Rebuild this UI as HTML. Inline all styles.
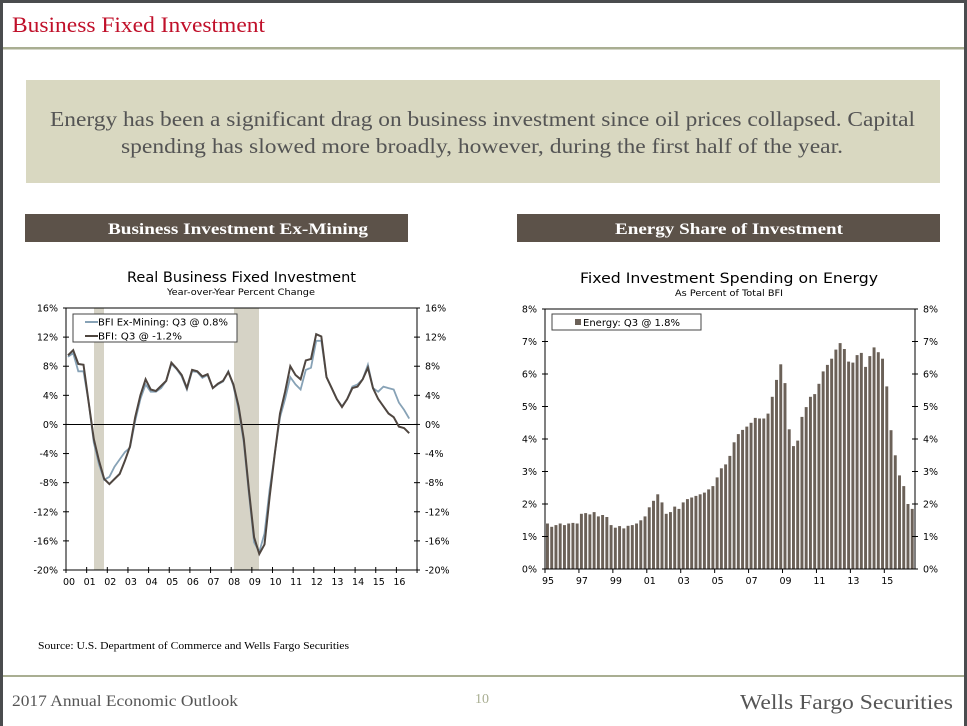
<!DOCTYPE html>
<html><head><meta charset="utf-8"><style>
html,body{margin:0;padding:0;background:#fff}
body{width:967px;height:726px;overflow:hidden;position:relative}
svg{position:absolute;left:0;top:0}
</style></head><body>
<svg id="s" width="967" height="726" xmlns="http://www.w3.org/2000/svg" font-family="DejaVu Sans, sans-serif">
<rect x="0" y="0" width="967" height="726" fill="#fff"/>
<rect x="0" y="0" width="967" height="3" fill="#4a4c4e"/>
<rect x="0" y="0" width="3" height="726" fill="#4a4c4e"/>
<rect x="964" y="0" width="3" height="726" fill="#4a4c4e"/>
<text x="12" y="32" font-family="Liberation Serif, serif" font-size="22" fill="#c0102a" textLength="253" lengthAdjust="spacingAndGlyphs">Business Fixed Investment</text>
<rect x="3" y="47" width="961" height="2.5" fill="#a9ae92"/>
<rect x="26" y="80" width="914" height="103" fill="#d9d8c1"/>
<text x="50" y="126" font-family="Liberation Serif, serif" font-size="21" fill="#545454" textLength="865" lengthAdjust="spacingAndGlyphs">Energy has been a significant drag on business investment since oil prices collapsed. Capital</text>
<text x="121" y="153" font-family="Liberation Serif, serif" font-size="21" fill="#545454" textLength="722" lengthAdjust="spacingAndGlyphs">spending has slowed more broadly, however, during the first half of the year.</text>
<rect x="25" y="214" width="383" height="28" fill="#5c5249"/>
<text x="108" y="234" font-family="Liberation Serif, serif" font-weight="bold" font-size="16" fill="#fff" textLength="260" lengthAdjust="spacingAndGlyphs">Business Investment Ex-Mining</text>
<rect x="517" y="214" width="423" height="28" fill="#5c5249"/>
<text x="615" y="234" font-family="Liberation Serif, serif" font-weight="bold" font-size="16" fill="#fff" textLength="228" lengthAdjust="spacingAndGlyphs">Energy Share of Investment</text>
<text x="127" y="282" font-size="14" fill="#000" textLength="229" lengthAdjust="spacingAndGlyphs">Real Business Fixed Investment</text>
<text x="167" y="295" font-size="9" fill="#000" textLength="148" lengthAdjust="spacingAndGlyphs">Year-over-Year Percent Change</text>
<text x="580" y="283" font-size="14" fill="#000" textLength="298" lengthAdjust="spacingAndGlyphs">Fixed Investment Spending on Energy</text>
<text x="675" y="296" font-size="9" fill="#000" textLength="108" lengthAdjust="spacingAndGlyphs">As Percent of Total BFI</text>
<g id="L"></g><g id="R"></g>
<text x="38" y="649" font-family="Liberation Serif, serif" font-size="11" fill="#000" textLength="311" lengthAdjust="spacingAndGlyphs">Source: U.S. Department of Commerce and Wells Fargo Securities</text>
<rect x="3" y="675" width="961" height="2" fill="#a9ae92"/>
<text x="12" y="706" font-family="Liberation Serif, serif" font-size="16" fill="#555" textLength="226" lengthAdjust="spacingAndGlyphs">2017 Annual Economic Outlook</text>
<text x="482" y="703" text-anchor="middle" font-family="Liberation Serif, serif" font-size="14" fill="#a9ae92">10</text>
<text x="740" y="709" font-family="Liberation Serif, serif" font-size="21" fill="#555" textLength="213" lengthAdjust="spacingAndGlyphs">Wells Fargo Securities</text>
</svg>
<script>
var NS="http://www.w3.org/2000/svg";
function el(p,t,a,tx){var e=document.createElementNS(NS,t);for(var k in a)e.setAttribute(k,a[k]);if(tx!=null)e.textContent=tx;p.appendChild(e);return e;}
var L=document.getElementById("L");
var x0=66,x1=417,yT=308,yB=570;
function ly(v){return yT+(16-v)*(yB-yT)/36;}
function lx(q){return x0+2+q*5.17;}
el(L,"rect",{x:94,y:yT,width:10,height:yB-yT,fill:"#d6d3c6"});
el(L,"rect",{x:234,y:yT,width:25,height:yB-yT,fill:"#d6d3c6"});
el(L,"rect",{x:x0,y:yT,width:x1-x0,height:yB-yT,fill:"none",stroke:"#000","stroke-width":1});
el(L,"line",{x1:x0,y1:ly(0),x2:x1,y2:ly(0),stroke:"#000","stroke-width":1});
for(var v=-20;v<=16;v+=4){var y=ly(v);var t=v+"%";
el(L,"line",{x1:x0-3,y1:y,x2:x0+3,y2:y,stroke:"#000"});
el(L,"line",{x1:x1-3,y1:y,x2:x1+3,y2:y,stroke:"#000"});
el(L,"text",{x:x0-8,y:y+3.5,"text-anchor":"end","font-size":"9.5"},t);
el(L,"text",{x:x1+8,y:y+3.5,"font-size":"9.5"},t);}
for(var i=0;i<=17;i++){var x=x0+i*20.65;el(L,"line",{x1:x,y1:yB-3,x2:x,y2:yB+3,stroke:"#000"});
if(i<17)el(L,"text",{x:x+3,y:yB+15,"text-anchor":"middle","font-size":"9.5"},("0"+i).slice(-2));}
var bfi=[9.5,10.2,8.3,8.2,3,-2,-5,-7.5,-8.2,-7.5,-6.8,-5,-3,1,4,6.2,4.8,4.6,5.3,6,8.5,7.7,6.8,5,7.5,7.3,6.6,6.9,5,5.6,6,7.2,5.5,2.5,-2,-9,-15.5,-17.8,-16.5,-10,-4,1.5,4.5,8,6.8,6.2,8.8,9,12.4,12.1,6.5,5,3.5,2.4,3.5,5,5.2,6.2,7.8,5,3.5,2.5,1.5,1,-0.3,-0.5,-1.2];
var exm=[9.3,9.8,7.3,7.3,3,-2.5,-5.5,-7.6,-7.2,-5.8,-4.8,-3.8,-3.2,0.5,3.5,5.5,4.5,4.5,5,6,8.3,7.6,6.6,4.8,7.3,7.2,6.4,6.8,5,5.5,5.9,7.3,5.3,2,-2.5,-9.5,-16.2,-17.5,-15,-9,-4,1,3.5,6.5,5.5,4.8,7.5,7.8,11.5,11.5,6.5,5,3.5,2.5,3.5,5.2,5.5,6.2,8.2,5,4.5,5.2,5,4.8,3,2,0.8];
function pts(a){return a.map(function(v,i){return lx(i).toFixed(1)+","+ly(v).toFixed(1)}).join(" ");}
el(L,"polyline",{points:pts(exm),fill:"none",stroke:"#87a2b6","stroke-width":1.8});
el(L,"polyline",{points:pts(bfi),fill:"none",stroke:"#4f4640","stroke-width":2});
el(L,"rect",{x:73,y:314,width:164,height:28,fill:"#fff",stroke:"#444","stroke-width":1});
el(L,"line",{x1:85,y1:322,x2:98,y2:322,stroke:"#87a2b6","stroke-width":2});
el(L,"line",{x1:85,y1:336,x2:98,y2:336,stroke:"#4f4640","stroke-width":2});
el(L,"text",{x:98,y:325.5,"font-size":"9.5",textLength:"130",lengthAdjust:"spacingAndGlyphs"},"BFI Ex-Mining: Q3 @ 0.8%");
el(L,"text",{x:98,y:339.5,"font-size":"9.5",textLength:"84",lengthAdjust:"spacingAndGlyphs"},"BFI: Q3 @ -1.2%");
var R=document.getElementById("R");
var rx0=545,rx1=915,ryT=309,ryB=569;
function ry(v){return ryB-v*(ryB-ryT)/8;}
var en=[1.4,1.3,1.35,1.4,1.35,1.4,1.42,1.4,1.7,1.72,1.68,1.75,1.62,1.66,1.6,1.35,1.27,1.32,1.25,1.33,1.35,1.4,1.5,1.62,1.9,2.1,2.3,2.05,1.7,1.75,1.92,1.85,2.05,2.15,2.2,2.25,2.3,2.35,2.45,2.55,2.82,3.1,3.22,3.48,3.9,4.15,4.28,4.38,4.5,4.65,4.63,4.63,4.78,5.3,5.82,6.3,5.72,4.3,3.78,3.95,4.68,4.98,5.3,5.38,5.7,6.08,6.28,6.47,6.75,6.95,6.77,6.38,6.35,6.58,6.65,6.22,6.55,6.82,6.67,6.47,5.62,4.27,3.5,2.88,2.55,2.0,1.85];
var bw=(rx1-rx0-1)/en.length;
en.forEach(function(v,i){el(R,"rect",{x:(rx0+1+i*bw).toFixed(2),y:ry(v).toFixed(1),width:(bw-1.3).toFixed(2),height:(ryB-ry(v)).toFixed(1),fill:"#6b6158"});});
el(R,"rect",{x:rx0,y:ryT,width:rx1-rx0,height:ryB-ryT,fill:"none",stroke:"#000","stroke-width":1});
for(var v=0;v<=8;v++){var y=ry(v);var t=v+"%";
el(R,"line",{x1:rx0-3,y1:y,x2:rx0+3,y2:y,stroke:"#000"});
el(R,"line",{x1:rx1-3,y1:y,x2:rx1+3,y2:y,stroke:"#000"});
el(R,"text",{x:rx0-8,y:y+3.5,"text-anchor":"end","font-size":"9.5"},t);
el(R,"text",{x:rx1+8,y:y+3.5,"font-size":"9.5"},t);}
var yrs=["95","97","99","01","03","05","07","09","11","13","15"];
for(var i=0;i<11;i++){var x=rx0+i*8*bw;el(R,"line",{x1:x,y1:ryB,x2:x,y2:ryB+4,stroke:"#000"});
el(R,"text",{x:x+3,y:ryB+15,"text-anchor":"middle","font-size":"9.5"},yrs[i]);}
el(R,"rect",{x:552,y:314,width:149,height:16,fill:"#fff",stroke:"#444","stroke-width":1});
el(R,"rect",{x:575,y:319,width:6,height:6,fill:"#6b6158"});
el(R,"text",{x:583,y:326,"font-size":"9.5",textLength:"97",lengthAdjust:"spacingAndGlyphs"},"Energy: Q3 @ 1.8%");
</script>
</body></html>
